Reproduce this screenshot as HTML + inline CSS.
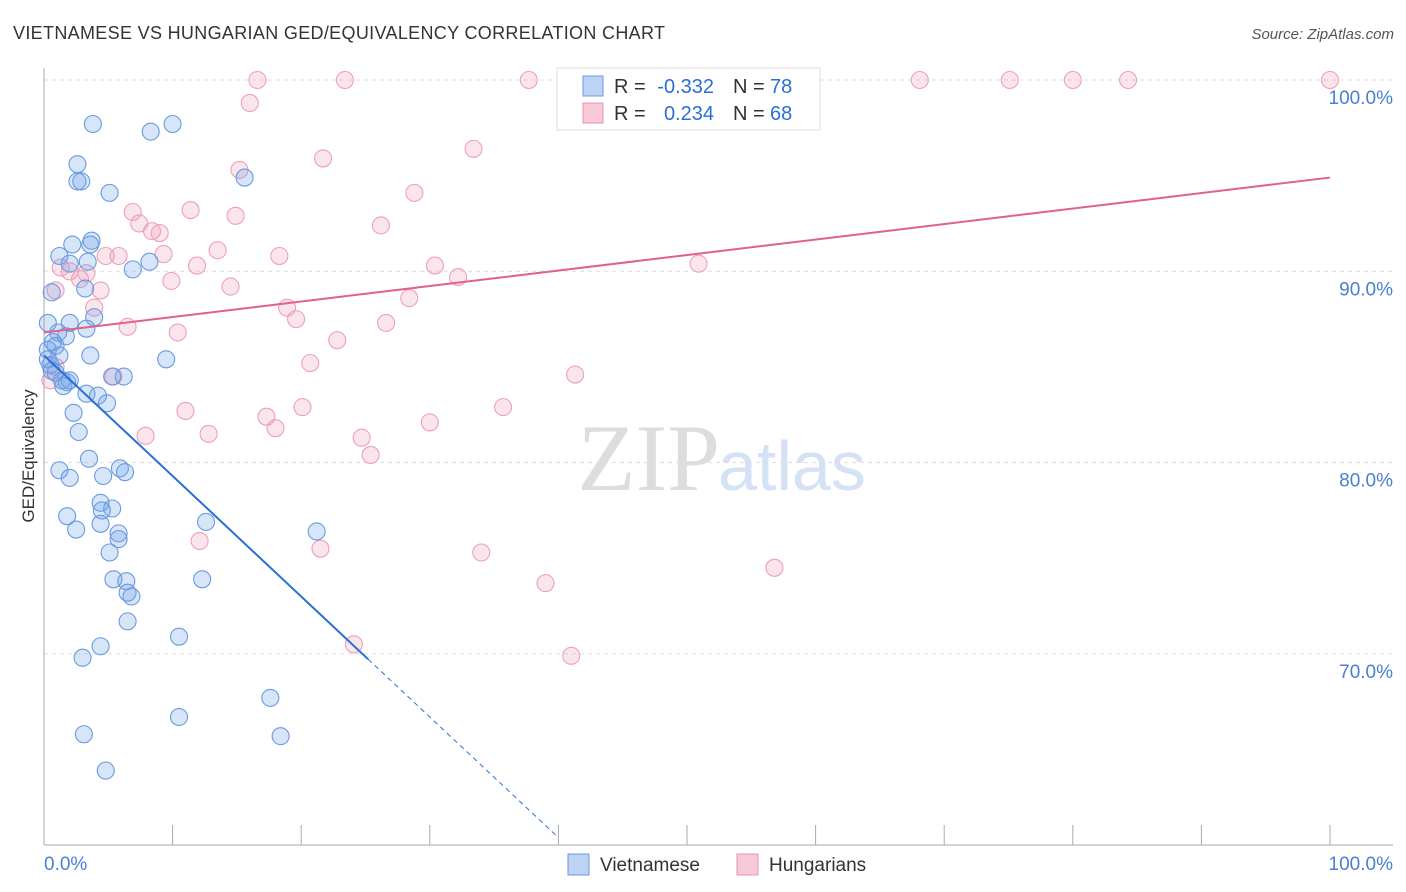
<!DOCTYPE html>
<html><head><meta charset="utf-8"><style>
body{margin:0;background:#fff;font-family:"Liberation Sans",sans-serif}
</style></head><body>
<svg id="c" width="1406" height="892" style="position:absolute;left:0;top:0">
<text x="13" y="39" font-size="18" fill="#333" textLength="652">VIETNAMESE VS HUNGARIAN GED/EQUIVALENCY CORRELATION CHART</text>
<text x="1394" y="39" font-size="15" fill="#555" font-style="italic" text-anchor="end">Source: ZipAtlas.com</text>
<text x="720" y="490" font-size="95" fill="#ddd" text-anchor="end" font-family="Liberation Serif">ZIP</text>
<text x="718" y="490" font-size="70" fill="#d5e2f5">atlas</text>
<g id="grid"></g><g id="pts"></g><g id="lines"></g>
<text transform="translate(34,456) rotate(-90)" font-size="17" fill="#333" text-anchor="middle">GED/Equivalency</text>
<rect x="557" y="68" width="263" height="62" fill="#fff" stroke="#ddd"/>
<rect x="583" y="76" width="20" height="20" fill="#bcd3f5" stroke="#6a9ae0"/>
<rect x="583" y="103" width="20" height="20" fill="#f8c9d8" stroke="#e894b0"/>
<g font-size="20">
<text x="614" y="93" fill="#333">R =</text><text x="714" y="93" fill="#2a6fd6" text-anchor="end">-0.332</text>
<text x="733" y="93" fill="#333">N =</text><text x="770" y="93" fill="#2a6fd6">78</text>
<text x="614" y="120" fill="#333">R =</text><text x="714" y="120" fill="#2a6fd6" text-anchor="end">0.234</text>
<text x="733" y="120" fill="#333">N =</text><text x="770" y="120" fill="#2a6fd6">68</text>
</g>
<rect x="568" y="854" width="21" height="21" fill="#bcd3f5" stroke="#6a9ae0"/>
<text x="600" y="871" font-size="19" fill="#333">Vietnamese</text>
<rect x="737" y="854" width="21" height="21" fill="#f8c9d8" stroke="#e894b0"/>
<text x="769" y="871" font-size="19" fill="#333">Hungarians</text>
</svg>
<script>
const yTicks=[70,80,90,100];
const yTickLabels=["70.0%","80.0%","90.0%","100.0%"];
const xTickLabels=["0.0%","100.0%"];
const blueX=[3.8,8.3,10,2.6,2.6,2.9,5.1,15.6,2.2,3.7,3.6,1.2,2,3.4,8.2,6.9,0.6,3.2,0.3,2,3.9,1.1,3.3,1.7,0.7,0.9,0.3,3.6,9.5,0.5,0.9,1.4,1.8,1.5,5.3,6.2,3.3,4.2,4.9,2.3,2.7,3.5,1.2,2,5.9,6.3,4.6,4.4,5.3,4.5,4.4,12.6,1.8,2.5,5.8,5.8,5.1,21.2,5.4,6.4,12.3,6.5,6.8,6.5,10.5,4.4,3.0,17.6,10.5,3.1,18.4,4.8,0.3,1.2,0.6,2];
const blueY=[97.7,97.3,97.7,95.6,94.7,94.7,94.1,94.9,91.4,91.6,91.4,90.8,90.4,90.5,90.5,90.1,88.9,89.1,87.3,87.3,87.6,86.8,87,86.6,86.3,86.1,85.9,85.6,85.4,85.1,84.7,84.3,84.2,84,84.5,84.5,83.6,83.5,83.1,82.6,81.6,80.2,79.6,79.2,79.7,79.5,79.3,77.9,77.6,77.5,76.8,76.9,77.2,76.5,76.3,76,75.3,76.4,73.9,73.8,73.9,73.2,73,71.7,70.9,70.4,69.8,67.7,66.7,65.8,65.7,63.9,85.4,85.6,84.8,84.3];
const pinkX=[16.6,23.4,37.7,53.9,68.1,75.1,80,84.3,100,16,33.4,21.7,15.2,28.8,11.4,14.9,6.9,7.4,8.4,9,26.2,13.5,4.8,5.8,9.3,18.3,11.9,30.4,1.3,2,2.8,3.3,9.9,32.2,50.9,14.5,0.9,4.4,28.4,3.9,18.9,19.6,6.5,10.4,26.6,22.8,20.7,0.9,5.4,41.3,11.0,35.7,20.1,17.3,18,7.9,12.8,24.7,30,25.4,12.1,21.5,34,39,56.8,24.1,41,0.5];
const pinkY=[100,100,100,100,100,100,100,100,100,98.8,96.4,95.9,95.3,94.1,93.2,92.9,93.1,92.5,92.1,92,92.4,91.1,90.8,90.8,90.9,90.8,90.3,90.3,90.2,90,89.6,89.9,89.5,89.7,90.4,89.2,89,89,88.6,88.1,88.1,87.5,87.1,86.8,87.3,86.4,85.2,85,84.5,84.6,82.7,82.9,82.9,82.4,81.8,81.4,81.5,81.3,82.1,80.4,75.9,75.5,75.3,73.7,74.5,70.5,69.9,84.3];
const blueLine=[85.6,-0.63,25.2,40];
const pinkLine=[86.8,0.081];
const X=v=>44+v*12.86, Y=v=>80+(100-v)*19.13;
const ns="http://www.w3.org/2000/svg";
function mk(t,a,p){const e=document.createElementNS(ns,t);for(const k in a)e.setAttribute(k,a[k]);p.appendChild(e);return e;}
const g=document.getElementById('grid');
yTicks.forEach((t,i)=>{
 const l=mk('line',{x1:44,x2:1393,y1:Y(t),y2:Y(t),stroke:'#ddd','stroke-dasharray':'4,4'},g);
 
 
 const tx=mk('text',{x:1393,y:Y(t)+24,'font-size':19,fill:'#4a7fd0','text-anchor':'end'},g);
 tx.textContent=yTickLabels[i];
 
 
});
let ax=mk('line',{x1:44,x2:44,y1:68,y2:845,stroke:'#aaa'},g);


ax=mk('line',{x1:44,x2:1393,y1:845,y2:845,stroke:'#aaa'},g);


for(let i=0;i<=10;i++){const t=mk('line',{x1:X(i*10),x2:X(i*10),y1:825,y2:845,stroke:'#aaa'},g);
 
 }
[[0,'start',44],[1,'end',1393]].forEach(([i,a,x])=>{const t=mk('text',{x:x,y:870,'font-size':19,fill:'#4a7fd0','text-anchor':a},g);t.textContent=xTickLabels[i];
 
 });
const p=document.getElementById('pts');
pinkX.forEach((x,i)=>{const c=mk('circle',{cx:X(x),cy:Y(pinkY[i]),r:8.5,fill:'rgba(240,150,180,0.25)',stroke:'#eda0b9','stroke-width':1.1},p);
 
 });
blueX.forEach((x,i)=>{const c=mk('circle',{cx:X(x),cy:Y(blueY[i]),r:8.5,fill:'rgba(110,160,235,0.28)',stroke:'#6a9ae0','stroke-width':1.1},p);
 
 });
const L=document.getElementById('lines');
const by=x=>blueLine[0]+blueLine[1]*x;
let ln=mk('line',{x1:X(0),y1:Y(by(0)),x2:X(blueLine[2]),y2:Y(by(blueLine[2])),stroke:'#2a6fd6','stroke-width':2},L);


ln=mk('line',{x1:X(blueLine[2]),y1:Y(by(blueLine[2])),x2:X(blueLine[3]),y2:Y(by(blueLine[3])),stroke:'#2a6fd6','stroke-width':1,'stroke-dasharray':'5,4'},L);


ln=mk('line',{x1:X(0),y1:Y(pinkLine[0]),x2:X(100),y2:Y(pinkLine[0]+pinkLine[1]*100),stroke:'#e0608e','stroke-width':2},L);


</script>
</body></html>
